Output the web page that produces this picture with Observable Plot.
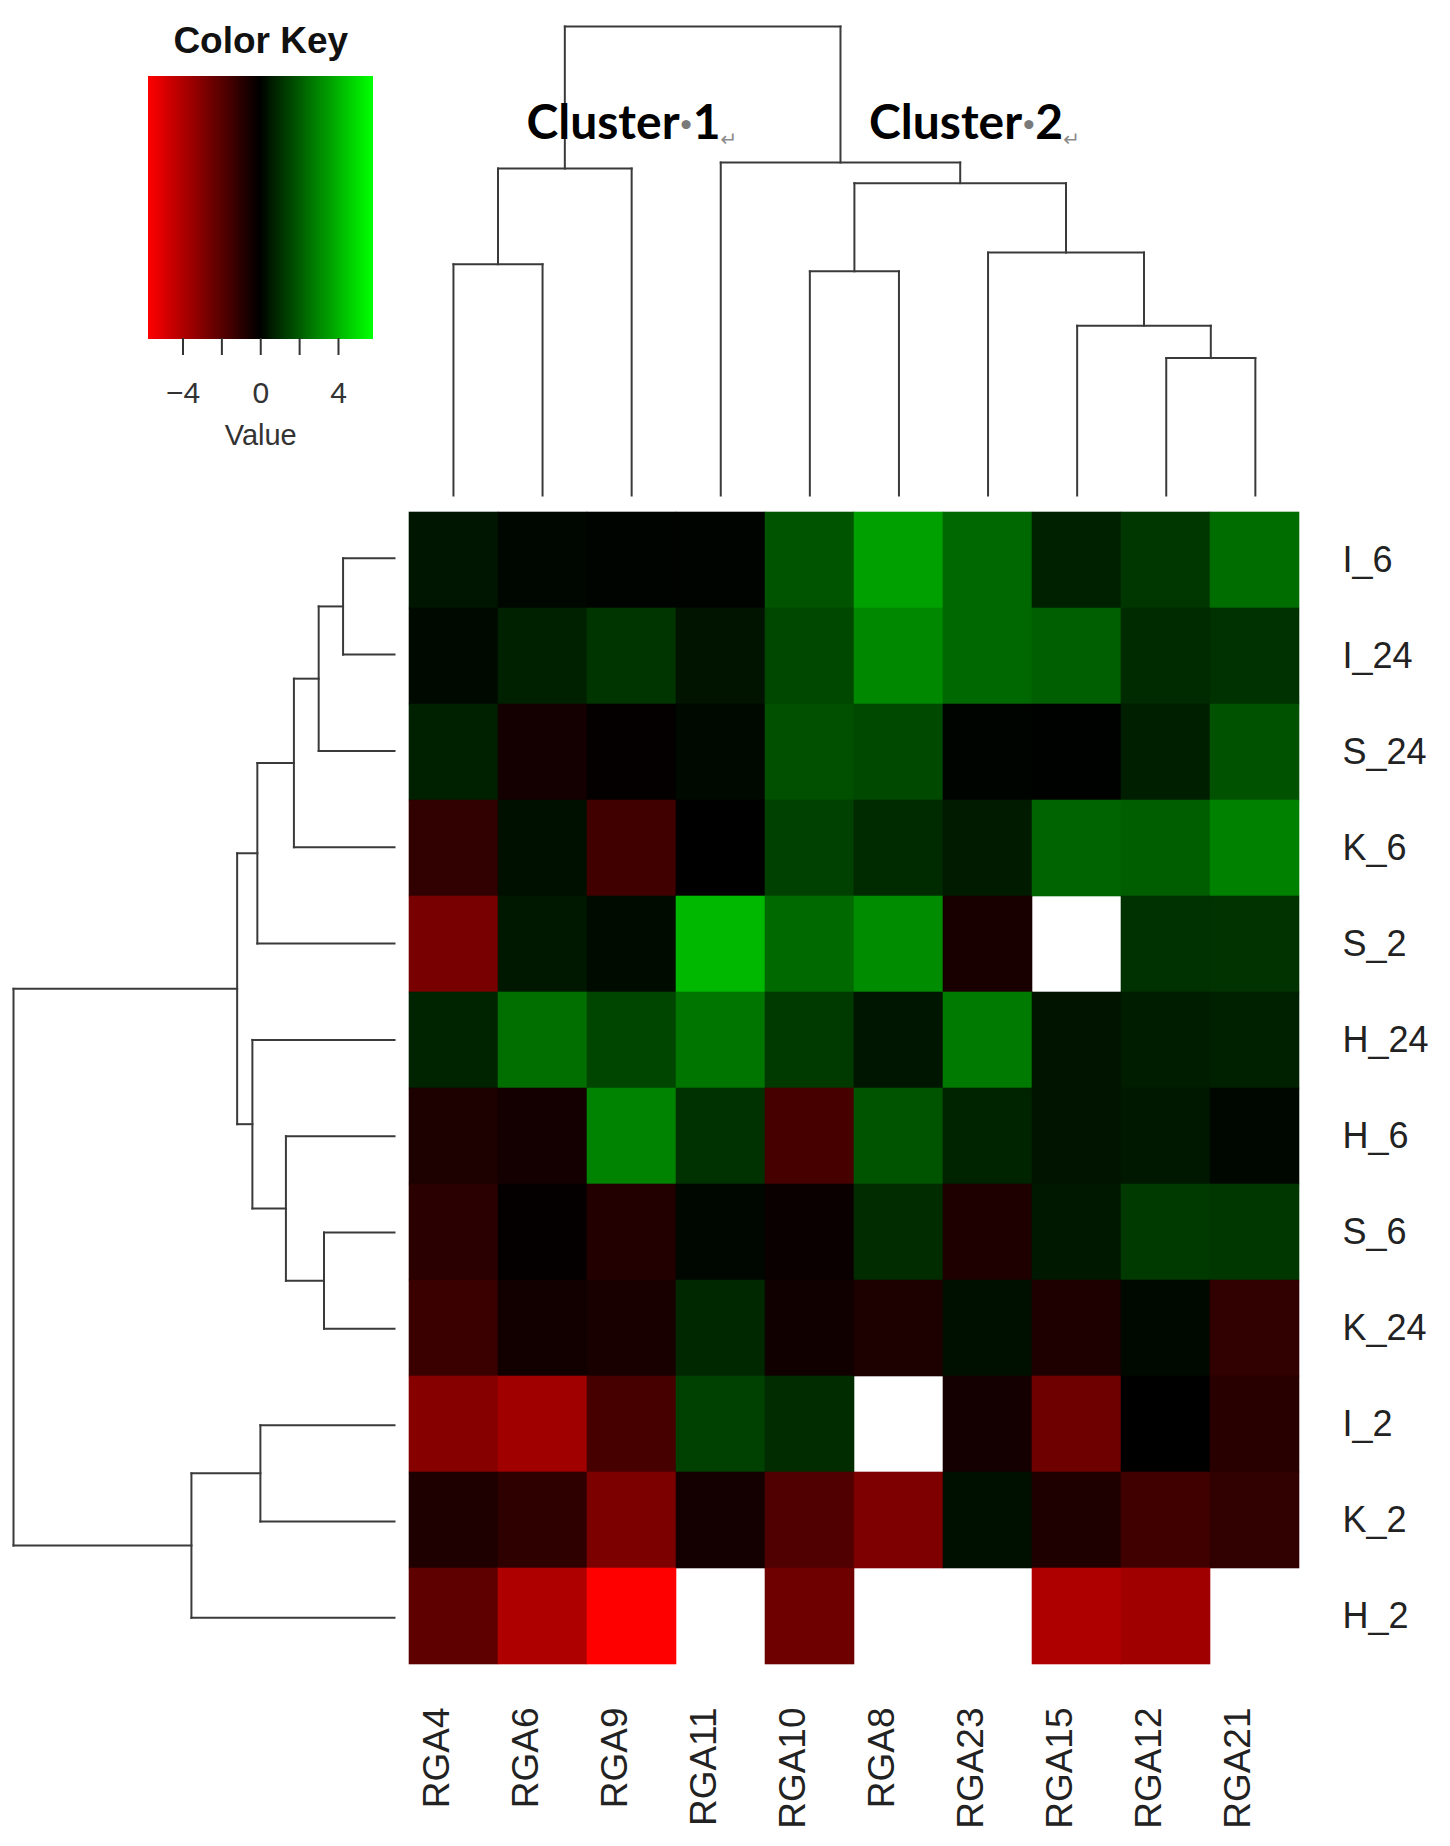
<!DOCTYPE html>
<html>
<head>
<meta charset="utf-8">
<script src="https://cdn.jsdelivr.net/npm/d3@7"></script>
<script src="https://cdn.jsdelivr.net/npm/@observablehq/plot@0.6"></script>
<style>
  html, body { margin: 0; padding: 0; background: #fff; }
  #chart { position: relative; width: 1450px; height: 1846px; background: #fff; }
</style>
</head>
<body>
<div id="chart"></div>
<script>
// ---------- DATA ----------
const colLabels = ["RGA4","RGA6","RGA9","RGA11","RGA10","RGA8","RGA23","RGA15","RGA12","RGA21"];
const rowLabels = ["I_6","I_24","S_24","K_6","S_2","H_24","H_6","S_6","K_24","I_2","K_2","H_2"];

// values per row (columns in colLabels order); null = missing (white)
const row_I_6  = [ 0.50, 0.15, 0.10, 0.10, 1.90, 3.60, 2.35, 0.75, 1.25, 2.45];
const row_I_24 = [ 0.20, 0.75, 1.20, 0.45, 1.60, 3.10, 2.35, 2.15, 0.95, 1.10];
const row_S_24 = [ 0.75,-0.45,-0.10, 0.20, 1.80, 1.65, 0.10, 0.05, 0.70, 1.85];
const row_K_6  = [-1.10, 0.35,-1.45, 0.00, 1.45, 0.95, 0.60, 2.25, 2.10, 2.90];
const row_S_2  = [-2.70, 0.55, 0.25, 4.15, 2.40, 3.15,-0.55, null, 1.10, 1.15];
const row_H_24 = [ 0.80, 2.50, 1.55, 2.65, 1.30, 0.50, 2.75, 0.45, 0.65, 0.75];
const row_H_6  = [-0.65,-0.45, 2.95, 1.10,-1.60, 1.90, 0.80, 0.45, 0.55, 0.15];
const row_S_6  = [-0.95,-0.10,-0.80, 0.15,-0.25, 1.00,-0.70, 0.55, 1.30, 1.25];
const row_K_24 = [-1.30,-0.40,-0.55, 0.90,-0.35,-0.65, 0.35,-0.70, 0.20,-1.10];
const row_I_2  = [-3.05,-3.60,-1.60, 1.45, 1.00, null,-0.45,-2.50, 0.00,-0.90];
const row_K_2  = [-0.70,-1.05,-2.80,-0.45,-1.80,-2.85, 0.35,-0.70,-1.45,-1.10];
const row_H_2  = [-2.15,-3.95,-5.75, null,-2.50, null, null,-3.95,-3.60, null];
const rowValues = [row_I_6,row_I_24,row_S_24,row_K_6,row_S_2,row_H_24,row_H_6,row_S_6,row_K_24,row_I_2,row_K_2,row_H_2];

// hclust-style merges: negative = leaf (1-based, display order), positive = earlier merge; third = height (relative)
const colMerges = [
  [-1, -2, 0.493],  // RGA4 + RGA6
  [ 1, -3, 0.697],  // + RGA9
  [-9,-10, 0.293],  // RGA12 + RGA21
  [-8,  3, 0.362],  // RGA15 + ...
  [-7,  4, 0.518],  // RGA23 + ...
  [-5, -6, 0.478],  // RGA10 + RGA8
  [ 6,  5, 0.666],
  [-4,  7, 0.710],  // RGA11 + ...
  [ 2,  8, 1.000]   // root
];
const rowMerges = [
  [ -1, -2, 0.135], // I_6 + I_24
  [  1, -3, 0.199], // + S_24
  [  2, -4, 0.264], // + K_6
  [  3, -5, 0.360], // + S_2
  [ -8, -9, 0.185], // S_6 + K_24
  [ -7,  5, 0.285], // H_6 + ...
  [ -6,  6, 0.373], // H_24 + ...
  [  4,  7, 0.413],
  [-10,-11, 0.352], // I_2 + K_2
  [  9,-12, 0.533], // + H_2
  [  8, 10, 1.000]  // root
];

const keyDomain = [-5.75, 5.75];
const keyTicks = [-4, -2, 0, 2, 4];
const keyTickLabels = {"-4": "\u22124", "0": "0", "4": "4"};

const clusterLabels = [
  {num: "1", pos: 1.32, h: 0.792},
  {num: "2", pos: 5.165, h: 0.792}
];

// ---------- HELPERS ----------
const W = 1450, H = 1846;
const colorOpts = {type: "linear", domain: [keyDomain[0], 0, keyDomain[1]], range: ["#ff0000", "#000000", "#00ff00"], interpolate: "rgb"};
const baseStyle = {position: "absolute", left: "0px", top: "0px", background: "transparent", overflow: "visible",
  fontFamily: "'Liberation Sans', Arial, Helvetica, sans-serif", color: "#222"};

function dendroSegments(merges) {
  const nodes = [];
  const get = id => id < 0 ? {pos: -id - 1 + 0.5, h: 0} : nodes[id - 1];
  const segs = [];
  for (const [a, b, h] of merges) {
    const A = get(a), B = get(b);
    segs.push({p1: A.pos, h1: A.h, p2: A.pos, h2: h});
    segs.push({p1: B.pos, h1: B.h, p2: B.pos, h2: h});
    segs.push({p1: A.pos, h1: h, p2: B.pos, h2: h});
    nodes.push({pos: (A.pos + B.pos) / 2, h});
  }
  return segs;
}

const chart = document.getElementById("chart");

// ---------- HEATMAP ----------
const cells = rowLabels.flatMap((r, i) => rowValues[i].map((v, j) => ({row: r, col: colLabels[j], value: v})))
  .filter(d => d.value !== null && d.value !== undefined);

const heat = Plot.plot({
  width: W, height: H,
  marginLeft: 408, marginRight: 151, marginTop: 510, marginBottom: 181,
  x: {domain: colLabels, padding: 0},
  y: {domain: rowLabels, padding: 0},
  color: colorOpts,
  style: {...baseStyle, fontSize: "36px"},
  marks: [
    Plot.cell(cells, {x: "col", y: "row", fill: "value", stroke: "value", strokeWidth: 0.6}),
    Plot.axisX({anchor: "bottom", tickSize: 0, tickPadding: 42, tickRotate: -90, fontSize: 37, dx: -17, label: null, fill: "#222"}),
    Plot.axisY({anchor: "right", tickSize: 0, tickPadding: 43, fontSize: 36, label: null, fill: "#222"})
  ]
});
chart.appendChild(heat);

// ---------- TOP (COLUMN) DENDROGRAM ----------
const colSegs = dendroSegments(colMerges);
const topDendro = Plot.plot({
  width: W, height: H,
  marginLeft: 408.4, marginRight: 150.6, marginTop: 26, marginBottom: H - 495,
  x: {domain: [0, colLabels.length], axis: null},
  y: {domain: [0, 1], axis: null},
  style: baseStyle,
  marks: [
    Plot.link(colSegs, {x1: "p1", y1: "h1", x2: "p2", y2: "h2", stroke: "#3a3a3a", strokeWidth: 2, strokeLinecap: "square"}),
    Plot.text(clusterLabels, {x: "pos", y: "h", text: d => "Cluster\u00B7" + d.num + "\u21B5", textAnchor: "start",
      fontSize: 48, fontWeight: "bold", fontFamily: "Lato, 'Open Sans', sans-serif", fill: "#000"})
  ]
});
chart.appendChild(topDendro);
// style the Word formatting marks (gray dot, gray return arrow)
d3.select(topDendro).selectAll('g[aria-label="text"] text').each(function() {
  const t = this.textContent;
  const m = t.match(/^(Cluster)(\u00B7)(\d)(\u21B5)$/);
  if (!m) return;
  const sel = d3.select(this);
  sel.text(null);
  sel.append("tspan").text(m[1]);
  sel.append("tspan").attr("fill", "#7a7a7a").text(m[2]);
  sel.append("tspan").text(m[3]);
  sel.append("tspan").attr("fill", "#8a8a8a").attr("font-size", 20).attr("font-weight", "normal")
     .attr("font-family", "DejaVu Sans").attr("dy", "0.35em").text(m[4]);
});

// ---------- LEFT (ROW) DENDROGRAM ----------
const rowSegs = dendroSegments(rowMerges);
const leftDendro = Plot.plot({
  width: W, height: H,
  marginLeft: 13, marginRight: W - 394, marginTop: 509.6, marginBottom: H - 1665.5,
  x: {domain: [0, 1], reverse: true, axis: null},
  y: {domain: [0, rowLabels.length], reverse: true, axis: null},
  style: baseStyle,
  marks: [
    Plot.link(rowSegs, {x1: "h1", y1: "p1", x2: "h2", y2: "p2", stroke: "#3a3a3a", strokeWidth: 2, strokeLinecap: "square"})
  ]
});
chart.appendChild(leftDendro);

// ---------- COLOR KEY ----------
const keySteps = d3.range(keyDomain[0], keyDomain[1], 0.05);
const key = Plot.plot({
  width: W, height: H,
  marginLeft: 148.5, marginRight: W - 372, marginTop: 76, marginBottom: H - 338,
  x: {domain: keyDomain},
  y: {domain: [0, 1], axis: null},
  color: colorOpts,
  style: {...baseStyle, fontSize: "30px"},
  marks: [
    Plot.rect(keySteps, {x1: d => d, x2: d => Math.min(d + 0.05, keyDomain[1]), y1: 0, y2: 1,
      fill: d => d + 0.025, stroke: d => d + 0.025, strokeWidth: 1, shapeRendering: "crispEdges"}),
    Plot.axisX({anchor: "bottom", ticks: keyTicks, tickSize: 17, tickPadding: 26, strokeWidth: 2,
      stroke: "#333", fill: "#333", fontSize: 30,
      tickFormat: d => keyTickLabels[String(d)] ?? "", label: null}),
    Plot.text(["Color Key"], {frameAnchor: "top", lineAnchor: "middle", dy: -35, text: d => d, fontSize: 37, fontWeight: "bold", fill: "#111"}),
    Plot.text(["Value"], {frameAnchor: "bottom", lineAnchor: "middle", dy: 97, text: d => d, fontSize: 29, fill: "#333"})
  ]
});
chart.appendChild(key);
</script>
</body>
</html>
